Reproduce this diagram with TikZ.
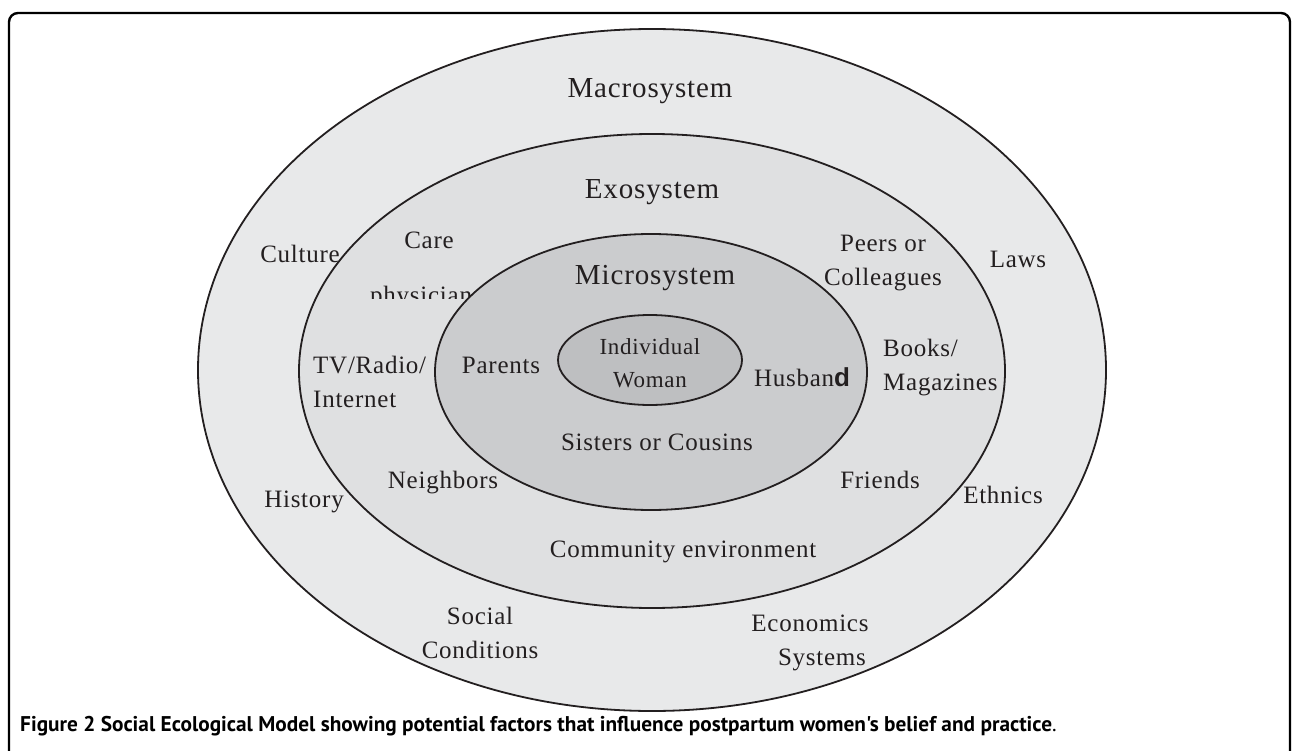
\documentclass[tikz,border=0pt]{standalone}
\usepackage{fontspec}
\setmainfont{Liberation Serif}[LetterSpace=3]
\newfontfamily\capfont{PT Sans}
\newfontfamily\dfont{Liberation Sans}
\definecolor{ink}{HTML}{231F20}
\definecolor{macro}{HTML}{E8E9EA}
\definecolor{exo}{HTML}{DFE0E1}
\definecolor{micro}{HTML}{CBCCCE}
\definecolor{indiv}{HTML}{BEBFC1}
\tikzset{
  ring/.style={draw=ink, line width=1.8pt},
  lbl/.style={anchor=base, text=ink, inner sep=0pt, font=\fontsize{25}{34}\selectfont},
  ttl/.style={anchor=base, text=ink, inner sep=0pt, font=\fontsize{29}{34}\selectfont},
  lbll/.style={anchor=base west, text=ink, inner sep=0pt, align=left, font=\fontsize{25}{34}\selectfont},
  lblc/.style={anchor=base, text=ink, inner sep=0pt, align=center, font=\fontsize{25}{34}\selectfont},
}
\begin{document}
\begin{tikzpicture}[x=1pt,y=-1pt]
\useasboundingbox (0,0) rectangle (1292,751);
\begin{scope}
\clip (0,0) rectangle (1292,751);
\draw[line width=2.4pt, rounded corners=9pt] (9,13) rectangle (1290,790);
\end{scope}
% ellipses
\path[ring, fill=macro] (652,370) ellipse [x radius=454, y radius=341];
\path[ring, fill=exo] (652,371) ellipse [x radius=353, y radius=237];
% clipped physician
\begin{scope}
\clip (300,260) rectangle (520,298);
\node[lbll] (phys) at (370,303) {physician};
\end{scope}
\path[ring, fill=micro] (651,372) ellipse [x radius=216, y radius=138];
\path[ring, fill=indiv] (650,360) ellipse [x radius=92, y radius=45];
% titles
\node[ttl] (macro) at (650,98) {Macrosystem};
\node[ttl] (exo) at (652,199) {Exosystem};
\node[ttl] (micro) at (655,284) {Microsystem};
% macrosystem labels
\node[lbl] (culture) at (300,262) {Culture};
\node[lbl] (laws) at (1018,267) {Laws};
\node[lbl] (history) at (304,507) {History};
\node[lbl] (ethnics) at (1003,503) {Ethnics};
\node[lblc] (social) at (480,658) {Social\\Conditions};
\node[lblc] (econ) at (810,665) {Economics\\\hspace*{24pt}Systems};
% exosystem labels
\node[lbl] (care) at (429,249) {Care};
\node[lblc] (peers) at (883,285) {Peers or\\Colleagues};
\node[lbll] (tv) at (313,407) {TV/Radio/\\Internet};
\node[lbll] (books) at (883,390) {Books/\\Magazines};
\node[lbl] (neigh) at (443,488) {Neighbors};
\node[lbl] (friends) at (880,488) {Friends};
\node[lbl] (comm) at (683,557) {Community environment};
% microsystem labels
\node[lbl] (parents) at (501,373) {Parents};
\node[lbl] (husband) at (802,386) {Husban{\dfont\bfseries\fontsize{26}{34}\selectfont d}};
\node[lbl] (sisters) at (657,450) {Sisters or Cousins};
% individual
\node[lblc, font=\fontsize{23}{33}\selectfont] (indiv) at (650,387) {Individual\\Woman};
% caption
\node[anchor=base west, inner sep=0pt, text=black, font=\capfont\fontsize{21.3}{24}\selectfont] (cap) at (20,731)
  {\textbf{Figure 2 Social Ecological Model showing potential factors that influence postpartum women's belief and practice}.};
\end{tikzpicture}
\end{document}
